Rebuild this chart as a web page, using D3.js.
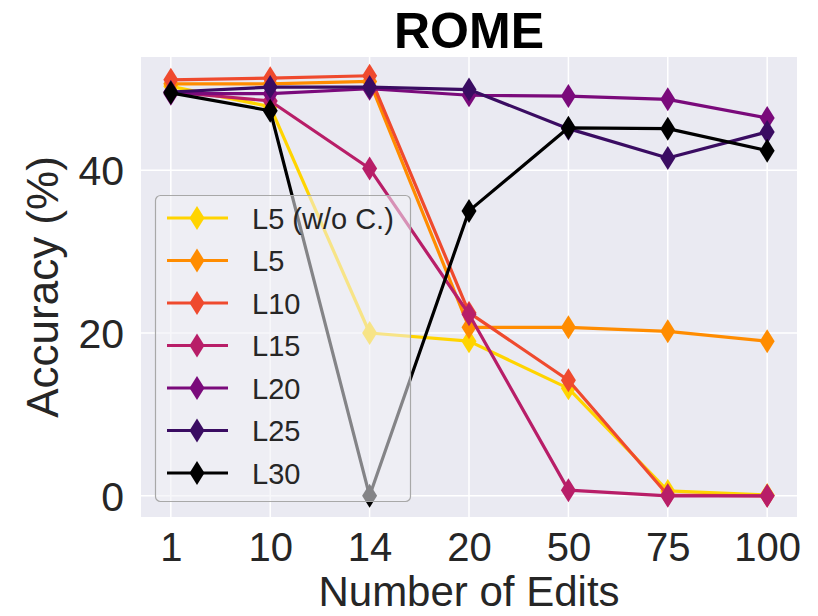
<!DOCTYPE html>
<html>
<head>
<meta charset="utf-8">
<script src="https://cdn.jsdelivr.net/npm/d3@7/dist/d3.min.js"></script>
<style>
  html, body { margin: 0; padding: 0; background: #ffffff; }
  svg { display: block; font-family: "Liberation Sans", Arial, sans-serif; }
</style>
</head>
<body>
<svg id="chart" width="818" height="616"></svg>
<script>
// Number of edits (categorical x axis)
const categories = ["1", "10", "14", "20", "50", "75", "100"];

// Accuracy (%) per editing layer
const seriesNames = ["L5 (w/o C.)", "L5", "L10", "L15", "L20", "L25", "L30"];
const l5NoC = [50.3, 47.8, 20.0, 19.0, 13.2, 0.6, 0.1];
const l5    = [50.6, 50.6, 50.9, 20.7, 20.7, 20.2, 19.0];
const l10   = [51.1, 51.3, 51.6, 22.5, 14.2, 0.1, 0.0];
const l15   = [49.6, 48.5, 40.2, 22.3, 0.7, 0.0, 0.0];
const l20   = [49.4, 49.4, 50.0, 49.2, 49.1, 48.7, 46.4];
const l25   = [49.6, 50.2, 50.2, 49.9, 45.1, 41.5, 44.7];
const l30   = [49.5, 47.3, 0.0, 35.0, 45.2, 45.1, 42.4];
const seriesValues = [l5NoC, l5, l10, l15, l20, l25, l30];
const seriesColors = ["#FFD400", "#FF8C00", "#EF4A2E", "#B81E68", "#7A0A7B", "#3A0C62", "#000000"];

const yTicks = [0, 20, 40];
const titleText = "ROME";
const xLabel = "Number of Edits";
const yLabel = "Accuracy (%)";

const svg = d3.select("#chart");
const plot = { left: 141, right: 797, top: 57, bottom: 517 };

const x = d3.scalePoint().domain(categories).range([plot.left, plot.right]).padding(0.3);
const y = d3.scaleLinear().domain([-2.6, 53.9]).range([plot.bottom, plot.top]);

// Axes background
svg.append("rect")
  .attr("x", plot.left).attr("y", plot.top)
  .attr("width", plot.right - plot.left).attr("height", plot.bottom - plot.top)
  .attr("fill", "#EAEAF2");

// White grid lines
const grid = svg.append("g").attr("stroke", "#ffffff").attr("stroke-width", 1.5);
grid.selectAll("line.v").data(categories).join("line")
  .attr("class", "v")
  .attr("x1", d => x(d)).attr("x2", d => x(d))
  .attr("y1", plot.top).attr("y2", plot.bottom);
grid.selectAll("line.h").data(yTicks).join("line")
  .attr("class", "h")
  .attr("x1", plot.left).attr("x2", plot.right)
  .attr("y1", d => y(d)).attr("y2", d => y(d));

// Axes (labels only, no tick marks or spines)
const xAxis = svg.append("g")
  .attr("transform", `translate(0,${plot.bottom})`)
  .call(d3.axisBottom(x).tickSize(0).tickPadding(0));
xAxis.select(".domain").remove();
xAxis.selectAll("text")
  .attr("y", 44).attr("dy", null)
  .attr("font-size", 40).attr("fill", "#262626")
  .attr("font-family", "Liberation Sans, Arial, sans-serif");

const yAxis = svg.append("g")
  .attr("transform", `translate(${plot.left},0)`)
  .call(d3.axisLeft(y).tickValues(yTicks).tickSize(0).tickPadding(17).tickFormat(d3.format("d")));
yAxis.select(".domain").remove();
yAxis.selectAll("text")
  .attr("dy", "0.36em")
  .attr("font-size", 41).attr("fill", "#262626")
  .attr("font-family", "Liberation Sans, Arial, sans-serif");

// Series lines and thin-diamond markers
const line = d3.line().x((d, i) => x(categories[i])).y(d => y(d));
const diamond = "M0,-12 L7.5,0 L0,12 L-7.5,0 Z";

const seriesGroup = svg.append("g");
seriesValues.forEach((vals, s) => {
  const g = seriesGroup.append("g");
  g.append("path")
    .datum(vals)
    .attr("d", line)
    .attr("fill", "none")
    .attr("stroke", seriesColors[s])
    .attr("stroke-width", 3.2)
    .attr("stroke-linejoin", "round");
  g.selectAll("path.m").data(vals).join("path")
    .attr("class", "m")
    .attr("d", diamond)
    .attr("transform", (d, i) => `translate(${x(categories[i])},${y(d)})`)
    .attr("fill", seriesColors[s]);
});

// Legend
const legend = svg.append("g");
legend.append("rect")
  .attr("x", 155.5).attr("y", 195.5)
  .attr("width", 255).attr("height", 306)
  .attr("rx", 5).attr("ry", 5)
  .attr("fill", "#F0F0F5").attr("fill-opacity", 0.55)
  .attr("stroke", "#A8A8A8").attr("stroke-width", 1.2);

const rowY = d3.scalePoint().domain(seriesNames).range([218, 473]);
seriesNames.forEach((name, s) => {
  const cy = rowY(name);
  legend.append("line")
    .attr("x1", 167).attr("x2", 228).attr("y1", cy).attr("y2", cy)
    .attr("stroke", seriesColors[s]).attr("stroke-width", 3);
  legend.append("path")
    .attr("d", diamond)
    .attr("transform", `translate(197,${cy})`)
    .attr("fill", seriesColors[s]);
  legend.append("text")
    .attr("x", 252).attr("y", cy + 10.5)
    .attr("font-size", 29).attr("fill", "#262626")
    .text(name);
});

// Title and axis labels
svg.append("text")
  .attr("x", (plot.left + plot.right) / 2).attr("y", 48)
  .attr("text-anchor", "middle")
  .attr("font-size", 50).attr("font-weight", "bold").attr("fill", "#000000")
  .text(titleText);

svg.append("text")
  .attr("x", (plot.left + plot.right) / 2).attr("y", 606)
  .attr("text-anchor", "middle")
  .attr("font-size", 42).attr("fill", "#262626")
  .text(xLabel);

svg.append("text")
  .attr("transform", `translate(58,${(plot.top + plot.bottom) / 2}) rotate(-90)`)
  .attr("text-anchor", "middle")
  .attr("font-size", 44).attr("fill", "#262626")
  .text(yLabel);
</script>
</body>
</html>
